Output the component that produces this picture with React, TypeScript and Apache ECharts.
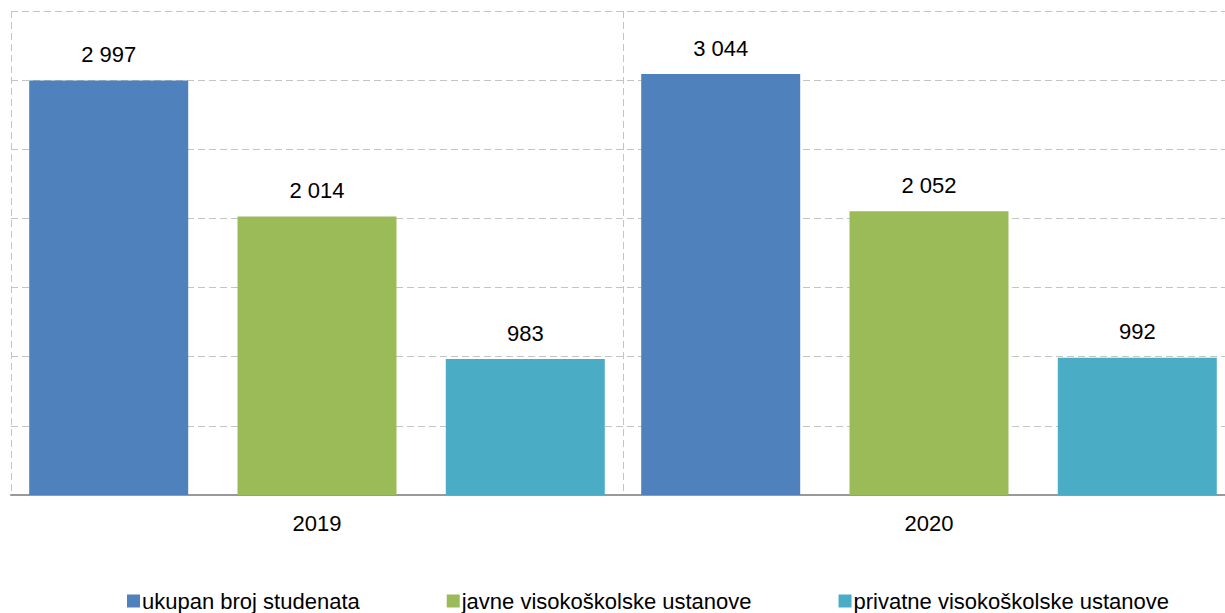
import React, { useEffect, useRef } from "react";
import * as echarts from "echarts";

const categories = ["2019", "2020"];
const seriesNames = [
  "ukupan broj studenata",
  "javne visokoškolske ustanove",
  "privatne visokoškolske ustanove",
];
const ukupan = [2997, 3044];
const javne = [2014, 2052];
const privatne = [983, 992];
const colors = ["#4F81BD", "#9BBB59", "#4BACC6"];

const fmt = (v: number) => {
  const s = String(v);
  return s.length > 3 ? s.slice(0, s.length - 3) + " " + s.slice(-3) : s;
};

export default function App() {
  const ref = useRef<HTMLDivElement>(null);
  useEffect(() => {
    if (!ref.current) return;
    const chart = echarts.init(ref.current, null, { renderer: "svg" });
    const font = "'Liberation Sans', Arial, sans-serif";
    const data = [ukupan, javne, privatne];
    chart.setOption({
      animation: false,
      textStyle: { fontFamily: font },
      grid: { left: 11, top: 11, width: 1224, height: 484 },
      legend: {
        left: 127,
        top: 590,
        padding: 0,
        itemGap: 87,
        itemWidth: 13,
        itemHeight: 13,
        icon: "rect",
        textStyle: { fontSize: 22, color: "#000", fontFamily: font, padding: [0, 0, 0, -3] },
        data: seriesNames,
      },
      xAxis: {
        type: "category",
        data: categories,
        axisLine: { lineStyle: { color: "#999", width: 2 } },
        axisTick: { show: false },
        axisLabel: { fontSize: 22, color: "#000", margin: 17, fontFamily: font },
        splitLine: { show: true, lineStyle: { type: [7, 4], color: "#c4c4c4", width: 1 } },
      },
      yAxis: {
        type: "value",
        min: 0,
        max: 3500,
        interval: 500,
        axisLabel: { show: false },
        axisLine: { show: false },
        axisTick: { show: false },
        splitLine: { show: true, lineStyle: { type: [7, 4], color: "#c4c4c4", width: 1 } },
      },
      series: seriesNames.map((name, i) => ({
        name,
        type: "bar",
        data: data[i],
        barWidth: 159,
        barGap: "31%",
        itemStyle: { color: colors[i] },
        label: {
          show: true,
          position: "top",
          distance: 15,
          fontSize: 22,
          color: "#000",
          fontFamily: font,
          formatter: (p: any) => fmt(p.value),
        },
      })),
    });
    return () => chart.dispose();
  }, []);
  return (
    <div style={{ position: "fixed", left: 0, top: 0, width: 1225, height: 613, overflow: "hidden", background: "#fff" }}>
      <div ref={ref} style={{ position: "absolute", left: 0, top: 0, width: 1240, height: 613 }} />
    </div>
  );
}
